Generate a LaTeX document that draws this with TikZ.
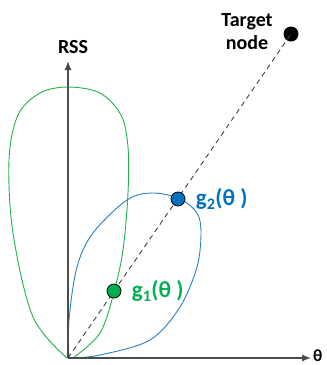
\documentclass[tikz,border=0pt]{standalone}
\usepackage{fontspec}
\setmainfont{Carlito}
\usetikzlibrary{arrows.meta}
\definecolor{lobegreen}{HTML}{00B050}
\definecolor{lobeblue}{HTML}{0070C0}
\definecolor{curvegreen}{HTML}{22B14C}
\definecolor{curveblue}{HTML}{2A7FC4}

\begin{document}
\begin{tikzpicture}[x=1pt,y=-1pt,>={Latex[length=9pt,width=7pt]},
  every node/.style={font=\bfseries\fontsize{20}{23}\selectfont},
  axis/.style={->,draw=black!70,line width=1.2pt},
  lobe/.style={line width=0.9pt},
  spot/.style={circle,draw=black,line width=0.8pt,minimum size=14pt,inner sep=0pt},
  gain/.style={anchor=west,font=\bfseries\fontsize{23}{26}\selectfont}]
  \useasboundingbox (0,0) rectangle (327,365);
  \coordinate (origin) at (68,358);
  \coordinate (rsstip) at (68,61);
  \coordinate (thetatip) at (311,358);
  % lobes
  \draw[lobe,curvegreen] plot[smooth,tension=0.55] coordinates {(67,358) (33,317)
    (13,233) (9,160) (18,115) (40,93) (68,87) (100,93) (121,115) (128,147)
    (128,193) (123,250) (114,292) (100,333) (73,358)};
  \draw[lobe,curveblue] plot[smooth,tension=0.55] coordinates {(69,358) (69,320)
    (77,267) (93,233) (127,200) (153,193) (180,199) (197,213) (201,233)
    (197,267) (180,307) (150,340) (100,355) (72,358)};
  % axes
  \draw[axis] (origin) -- (rsstip);
  \draw[axis] (origin) -- (thetatip);
  \node[anchor=west,inner sep=0pt,font=\bfseries\fontsize{17}{19}\selectfont]
    (thetalabel) at ([xshift=2pt,yshift=2.5pt]thetatip) {θ};
  \node (rsslabel) at (73,47) {RSS};
  % target and the two gains
  \node[circle,fill=black,minimum size=15pt,inner sep=0pt] (target) at (291,34) {};
  \node[align=center] (targetlabel) at (247,32) {Target\\node};
  \draw[dashed,dash pattern=on 5pt off 4pt,black!75,line width=0.9pt] (origin) -- (target.center);
  \node[spot,fill=lobeblue] (gtwo) at (178,199) {};
  \node[spot,fill=lobegreen] (gone) at (114,291) {};
  \node[gain,lobeblue] (gtwolabel) at ([xshift=7pt]gtwo.east) {g\textsubscript{2}(θ )};
  \node[gain,lobegreen] (gonelabel) at ([xshift=7pt]gone.east) {g\textsubscript{1}(θ )};
\end{tikzpicture}
\end{document}
